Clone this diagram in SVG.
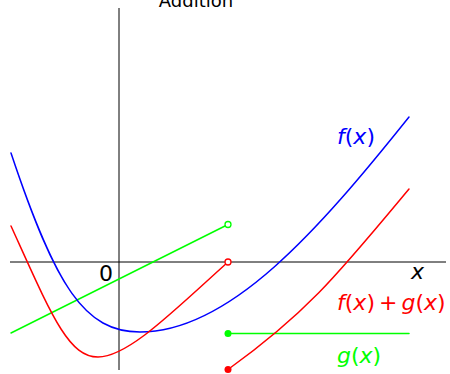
<svg xmlns="http://www.w3.org/2000/svg" width="450" height="374" viewBox="0 0 450 374">
<style>
.ax{stroke:#000;stroke-width:1;fill:none}
.c{fill:none;stroke-width:1.5;stroke-linecap:round;stroke-linejoin:round}
.b{stroke:#0000ff}
.r{stroke:#ff0000}
.g{stroke:#00ff00}
text{font-family:"DejaVu Sans",sans-serif}
.lbl{font-size:22px}
.i{font-style:oblique}
.open{fill:#fff;stroke-width:1.3}
</style>
<rect width="450" height="374" fill="#fff"/>
<g id="axes">
<line class="ax" x1="10" y1="262" x2="446" y2="262"/>
<line class="ax" x1="119" y1="8" x2="119" y2="370"/>
<text x="196" y="7" font-size="18" text-anchor="middle" fill="#000">Addition</text>
<text x="113" y="281" class="lbl" text-anchor="end" fill="#000">0</text>
<text x="411" y="279" class="lbl i" fill="#000">x</text>
</g>
<g id="g-curve">
<line class="c g" x1="11" y1="333" x2="228" y2="224.5"/>
<line class="c g" x1="228" y1="333.5" x2="409" y2="333.5"/>
<circle cx="228" cy="224.5" r="3" class="open g"/>
<circle cx="228" cy="333.5" r="3.5" fill="#00ff00"/>
<text x="337" y="363" class="lbl" fill="#00ff00"><tspan class="i">g</tspan>(<tspan class="i">x</tspan>)</text>
</g>
<g id="f-curve">
<path class="c b" d="M11,153 C56,288 85,332 140,332 C230,332 319,229.5 409,117"/>
<text x="337" y="144" class="lbl" fill="#0000ff"><tspan class="i">f</tspan>(<tspan class="i">x</tspan>)</text>
</g>
<g id="sum-curve">
<path class="c r" d="M11,226 C51,314 68,357 98,357 C128,357 173,311.5 228,262"/>
<path class="c r" d="M228,369.5 C308,312 339,273 409,189"/>
<circle cx="228" cy="262" r="3" class="open r"/>
<circle cx="228" cy="369.5" r="3.5" fill="#ff0000"/>
<text x="337" y="310" class="lbl" fill="#ff0000"><tspan class="i">f</tspan>(<tspan class="i">x</tspan>)<tspan dx="4">+</tspan><tspan dx="4" class="i">g</tspan>(<tspan class="i">x</tspan>)</text>
</g>
</svg>
